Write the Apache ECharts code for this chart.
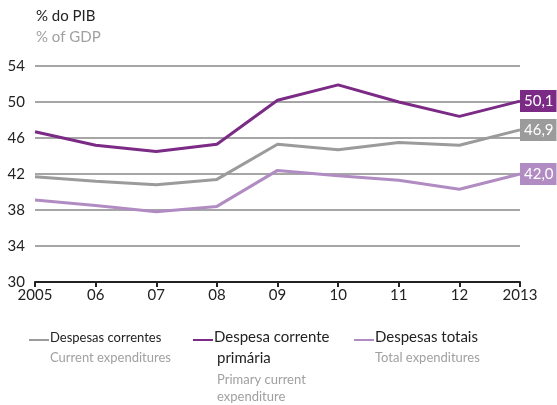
<!DOCTYPE html>
<html>
<head>
<meta charset="utf-8">
<script src="https://cdn.jsdelivr.net/npm/echarts@6/dist/echarts.min.js"></script>
<style>
  html, body { margin: 0; padding: 0; background: #fff; }
  #main { width: 557px; height: 405px; }
</style>
</head>
<body>
<div id="main"></div>
<script>
var years = ['2005', '06', '07', '08', '09', '10', '11', '12', '2013'];
var correntes = [41.7, 41.2, 40.8, 41.4, 45.3, 44.7, 45.5, 45.2, 46.9];
var primaria = [46.7, 45.2, 44.5, 45.3, 50.2, 51.9, 50.0, 48.4, 50.1];
var totais = [39.1, 38.5, 37.8, 38.4, 42.4, 41.8, 41.3, 40.3, 42.0];

var cGray = '#9b9b9b', cDark = '#7b2a85', cLight = '#b18cc2';
var font = 'Lato';

function endLabel(color) {
  return {
    show: true,
    distance: 0,
    backgroundColor: color,
    color: '#fff',
    fontFamily: font,
    fontSize: 15,
    padding: [4, 3, 3, 4],
    formatter: function (p) { return p.value.toFixed(1).replace('.', ','); }
  };
}

var chart = echarts.init(document.getElementById('main'));
chart.setOption({
  animation: false,
  grid: { left: 35, right: 37, top: 66, bottom: 123 },
  graphic: [
    { type: 'text', left: 36, top: 9, style: { text: '% do PIB', fill: '#222', font: '15px ' + font } },
    { type: 'text', left: 36, top: 30, style: { text: '% of GDP', fill: '#a0a0a0', font: '15px ' + font } },
    // legenda
    { type: 'line', shape: { x1: 29, y1: 340, x2: 49, y2: 340 }, style: { stroke: cGray, lineWidth: 2 } },
    { type: 'text', left: 50, top: 331, style: { text: 'Despesas correntes', fill: '#222', font: '13px ' + font } },
    { type: 'text', left: 50, top: 351, style: { text: 'Current expenditures', fill: '#a0a0a0', font: '13px ' + font } },
    { type: 'line', shape: { x1: 193, y1: 340, x2: 213, y2: 340 }, style: { stroke: cDark, lineWidth: 2 } },
    { type: 'text', left: 214, top: 330, style: { text: 'Despesa corrente', fill: '#222', font: '15px ' + font } },
    { type: 'text', left: 217, top: 351, style: { text: 'primária', fill: '#222', font: '15px ' + font } },
    { type: 'text', left: 217, top: 373, style: { text: 'Primary current', fill: '#a0a0a0', font: '13px ' + font } },
    { type: 'text', left: 217, top: 390, style: { text: 'expenditure', fill: '#a0a0a0', font: '13px ' + font } },
    { type: 'line', shape: { x1: 354, y1: 340, x2: 374, y2: 340 }, style: { stroke: cLight, lineWidth: 2 } },
    { type: 'text', left: 375, top: 330, style: { text: 'Despesas totais', fill: '#222', font: '15px ' + font } },
    { type: 'text', left: 375, top: 351, style: { text: 'Total expenditures', fill: '#a0a0a0', font: '13px ' + font } }
  ],
  xAxis: {
    type: 'category',
    data: years,
    boundaryGap: false,
    axisLine: { lineStyle: { color: '#222', width: 2 } },
    axisTick: { show: true, length: 5, lineStyle: { color: '#222', width: 2 } },
    axisLabel: { color: '#222', fontFamily: font, fontSize: 15, margin: 6 }
  },
  yAxis: {
    type: 'value',
    min: 30,
    max: 54,
    interval: 4,
    axisLine: { show: false },
    axisTick: { show: false },
    axisLabel: { color: '#222', fontFamily: font, fontSize: 15, margin: 10 },
    splitLine: { lineStyle: { color: '#a6a6a6', width: 2 } }
  },
  series: [
    { name: 'Despesas correntes', type: 'line', data: correntes, symbol: 'none',
      lineStyle: { color: cGray, width: 3 }, itemStyle: { color: cGray }, endLabel: endLabel(cGray) },
    { name: 'Despesas totais', type: 'line', data: totais, symbol: 'none',
      lineStyle: { color: cLight, width: 3 }, itemStyle: { color: cLight }, endLabel: endLabel(cLight) },
    { name: 'Despesa corrente primária', type: 'line', data: primaria, symbol: 'none',
      lineStyle: { color: cDark, width: 3 }, itemStyle: { color: cDark }, endLabel: endLabel(cDark) }
  ]
});
</script>
</body>
</html>
